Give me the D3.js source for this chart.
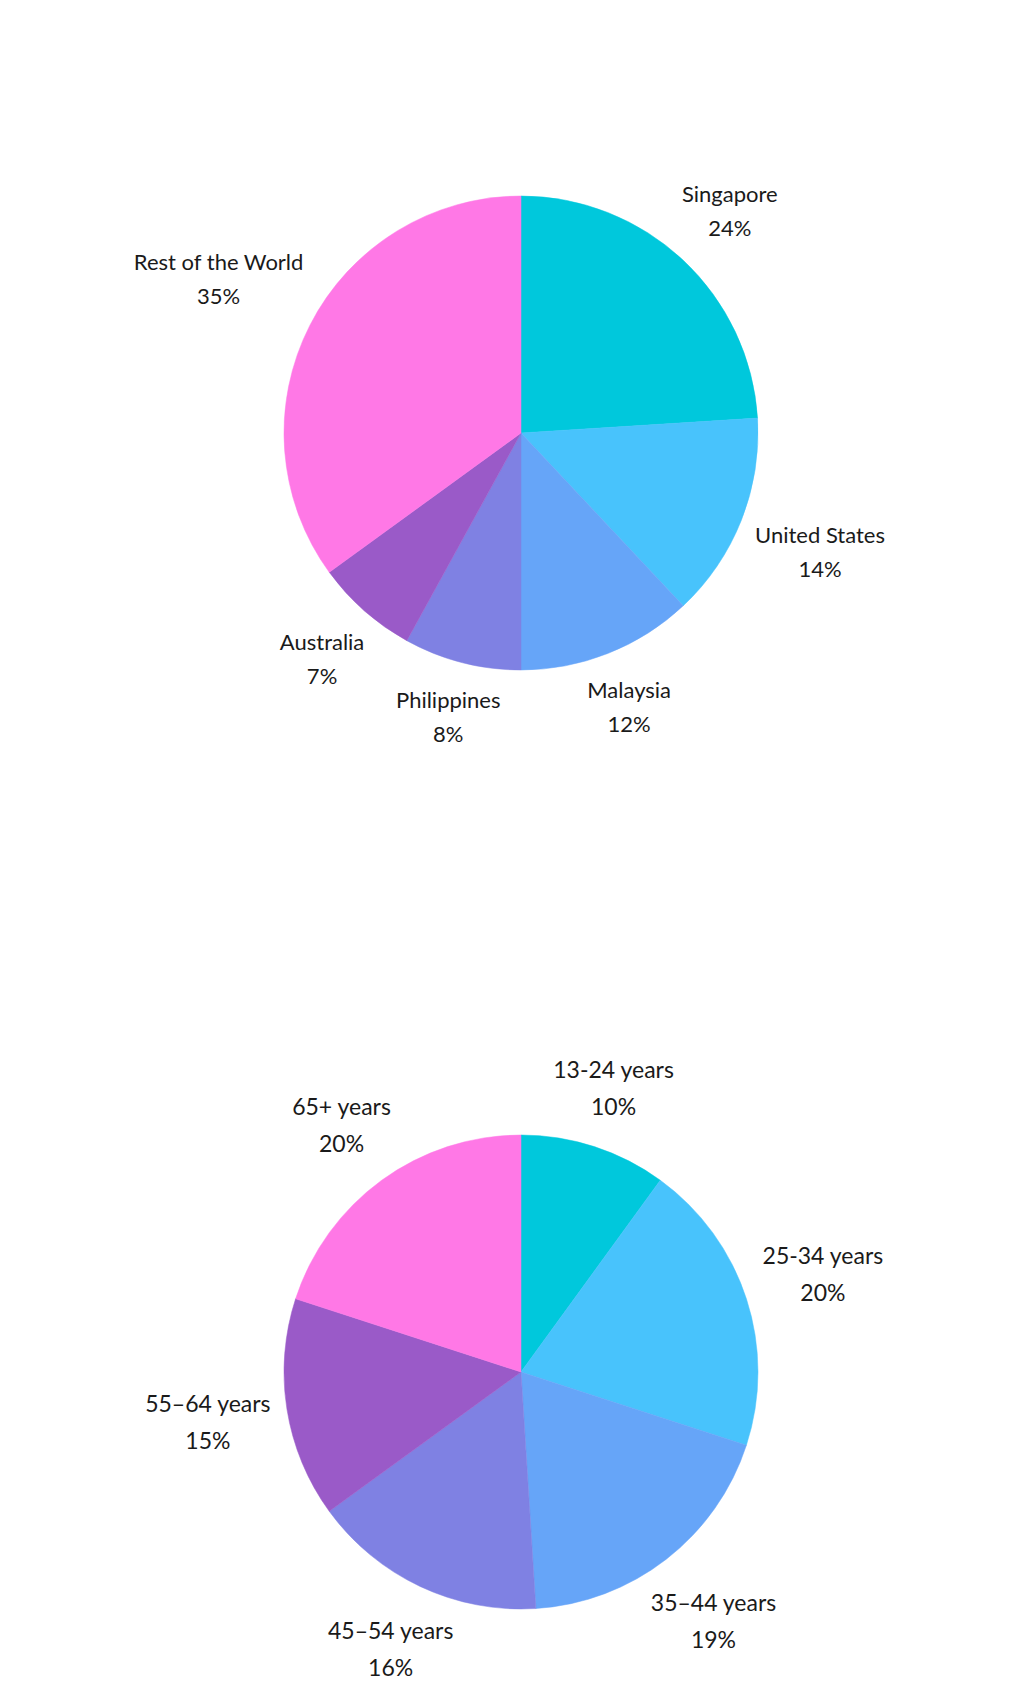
<!DOCTYPE html>
<html>
<head>
<meta charset="utf-8">
<script src="https://cdn.jsdelivr.net/npm/d3@7"></script>
<style>
  body { margin: 0; background: #fff; }
  svg text { font-family: "Lato", "Noto Sans", sans-serif; fill: #1a1a1a; }
</style>
</head>
<body>
<svg id="chart"></svg>
<script>
// first pie: audience by country
const countries = ["Singapore", "United States", "Malaysia", "Philippines", "Australia", "Rest of the World"];
const countryShares = [24, 14, 12, 8, 7, 35];

// second pie: audience by age
const ageGroups = ["13-24 years", "25-34 years", "35\u201344 years", "45\u201354 years", "55\u201364 years", "65+ years"];
const ageShares = [10, 20, 19, 16, 15, 20];

const palette = ["#00c8dc", "#48c3fc", "#66a5f8", "#7f81e3", "#9a5ac8", "#ff78e6"];

const width = 1024;
const height = 1700;
const svg = d3.select("#chart").attr("width", width).attr("height", height);

const radius = 237;
const labelGap = 13;

const pie = d3.pie().sort(null).value(d => d.value);
const arc = d3.arc().innerRadius(0).outerRadius(radius);

function drawPie(cx, cy, names, values, fontSize, lineStep) {
    const data = names.map((n, i) => ({ name: n, value: values[i] }));
    const color = d3.scaleOrdinal().domain(names).range(palette);
    const g = svg.append("g").attr("transform", `translate(${cx},${cy})`);

    g.selectAll("path")
        .data(pie(data))
        .enter()
        .append("path")
        .attr("d", arc)
        .attr("fill", d => color(d.data.name))
        .attr("stroke", d => color(d.data.name))
        .attr("stroke-width", 0.5);

    const labels = g.selectAll("text.lbl")
        .data(pie(data))
        .enter()
        .append("text")
        .attr("class", "lbl")
        .attr("text-anchor", "middle")
        .style("font-size", fontSize + "px");

    labels.append("tspan").attr("x", 0).attr("y", 0).text(d => d.data.name);
    labels.append("tspan").attr("x", 0).attr("y", lineStep).text(d => d.data.value + "%");

    // push each label block outward until its box just clears the rim
    labels.each(function(d) {
        const box = this.getBBox();
        const mid = (d.startAngle + d.endAngle) / 2;
        const sx = Math.sin(mid), cy0 = -Math.cos(mid);
        const hw = box.width / 2, hh = box.height / 2;
        const dist = radius + labelGap + Math.abs(sx) * hw + Math.abs(cy0) * hh;
        const bx = box.x + hw, by = box.y + hh;
        d3.select(this).attr("transform",
            `translate(${sx * dist - bx},${cy0 * dist - by})`);
    });
}

drawPie(521, 433, countries, countryShares, 22, 34);
drawPie(521, 1372, ageGroups, ageShares, 23, 37);
</script>
</body>
</html>
